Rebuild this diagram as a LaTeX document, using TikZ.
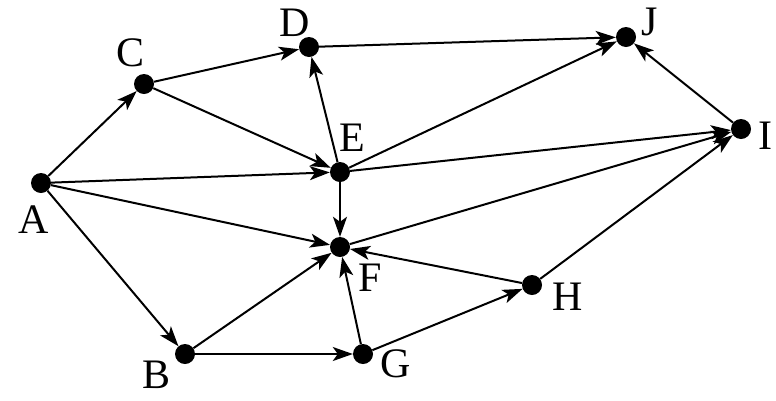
\documentclass[tikz,border=0pt]{standalone}
\usepackage{fontspec}
\setmainfont{Liberation Serif}
\usetikzlibrary{arrows.meta}
\begin{document}
\begin{tikzpicture}[x=1pt,y=-1pt,
  vtx/.style={circle,fill=black,inner sep=0pt,minimum size=20pt},
  lab/.style={inner sep=0pt,font=\fontsize{42}{44}\selectfont},
  arr/.style={line width=2pt,-{Stealth[length=20pt,width=14pt,inset=5pt]}}]
\useasboundingbox (0,0) rectangle (776,400);
\node[vtx] (A) at (41,183) {};
\node[vtx] (C) at (144,84) {};
\node[vtx] (D) at (309,47) {};
\node[vtx] (J) at (626,37) {};
\node[vtx] (E) at (340,172) {};
\node[vtx] (I) at (741,129) {};
\node[vtx] (F) at (340,247) {};
\node[vtx] (H) at (532,285) {};
\node[vtx] (B) at (185,354) {};
\node[vtx] (G) at (363,354) {};
\node[lab] (lA) at (34,220) {A};
\node[lab] (lC) at (131,53) {C};
\node[lab] (lD) at (295,23) {D};
\node[lab] (lJ) at (650,22) {J};
\node[lab] (lE) at (352,138) {E};
\node[lab] (lI) at (765,136) {I};
\node[lab] (lF) at (370,278) {F};
\node[lab] (lH) at (568,297) {H};
\node[lab] (lB) at (157,375) {B};
\node[lab] (lG) at (396,364) {G};
\draw[arr] (A) -- (C);
\draw[arr] (C) -- (D);
\draw[arr] (C) -- (E);
\draw[arr] (D) -- (J);
\draw[arr] (E) -- (D);
\draw[arr] (E) -- (J);
\draw[arr] (A) -- (E);
\draw[arr] (E) -- (I);
\draw[arr] (A) -- (F);
\draw[arr] (E) -- (F);
\draw[arr] (F) -- (I);
\draw[arr] (A) -- (B);
\draw[arr] (B) -- (F);
\draw[arr] (B) -- (G);
\draw[arr] (G) -- (F);
\draw[arr] (G) -- (H);
\draw[arr] (H) -- (F);
\draw[arr] (H) -- (I);
\draw[arr] (I) -- (J);
\end{tikzpicture}
\end{document}
